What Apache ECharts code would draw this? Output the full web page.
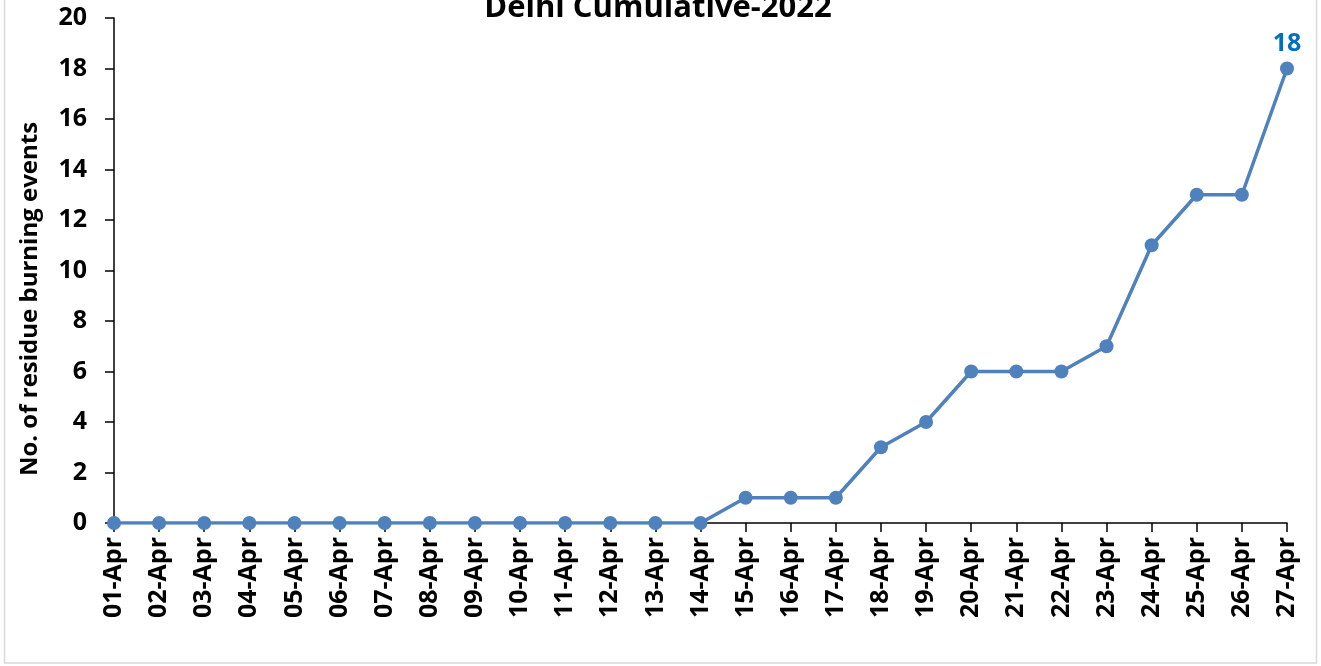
<!DOCTYPE html>
<html>
<head>
<meta charset="utf-8">
<script src="https://cdn.jsdelivr.net/npm/echarts@6/dist/echarts.min.js"></script>
<style>html,body{margin:0;padding:0;background:#fff;}#c{width:1321px;height:666px;}</style>
</head>
<body>
<div id="c"></div>
<script>
const categories = ['01-Apr','02-Apr','03-Apr','04-Apr','05-Apr','06-Apr','07-Apr','08-Apr','09-Apr','10-Apr','11-Apr','12-Apr','13-Apr','14-Apr','15-Apr','16-Apr','17-Apr','18-Apr','19-Apr','20-Apr','21-Apr','22-Apr','23-Apr','24-Apr','25-Apr','26-Apr','27-Apr'];
const cumulativeEvents = [0,0,0,0,0,0,0,0,0,0,0,0,0,0,1,1,1,3,4,6,6,6,7,11,13,13,18];
const titleText = 'Delhi Cumulative-2022';
const yAxisTitle = 'No. of residue burning events';

const FONT = '"Open Sans", "Noto Sans", sans-serif';
const chart = echarts.init(document.getElementById('c'), null, {renderer: 'canvas'});
const lastIdx = cumulativeEvents.length - 1;
chart.setOption({
  animation: false,
  backgroundColor: '#fff',
  title: {
    text: titleText, left: 653, top: -12, textAlign: 'center',
    textStyle: {fontFamily: FONT, fontWeight: 'bold', fontSize: 31, color: '#000'}
  },
  graphic: [
    {type: 'rect', shape: {x: 4.5, y: -10, width: 1312, height: 673}, style: {fill: 'none', stroke: '#D9D9D9', lineWidth: 1.5}, silent: true},
    {type: 'text', x: 30, y: 299, rotation: Math.PI/2, style: {text: yAxisTitle, fontFamily: FONT, fontWeight: 'bold', fontSize: 24, fill: '#000', textAlign: 'center', textVerticalAlign: 'middle'}}
  ],
  grid: {left: 114, right: 34, top: 18, bottom: 143, containLabel: false},
  xAxis: {
    type: 'category', data: categories, boundaryGap: false,
    axisLine: {lineStyle: {color: '#000', width: 1.5}},
    axisTick: {show: true, length: 9, alignWithLabel: true, lineStyle: {color: '#000', width: 1.5}},
    axisLabel: {rotate: 90, interval: 0, margin: 14, fontFamily: FONT, fontWeight: 'bold', fontSize: 25, color: '#000'},
    splitLine: {show: false}
  },
  yAxis: {
    type: 'value', min: 0, max: 20, interval: 2,
    axisLine: {show: true, lineStyle: {color: '#000', width: 1.5}},
    axisTick: {show: true, length: 9, lineStyle: {color: '#000', width: 1.5}},
    axisLabel: {margin: 27, fontFamily: FONT, fontWeight: 'bold', fontSize: 25, color: '#000'},
    splitLine: {show: false}
  },
  series: [{
    type: 'line', data: cumulativeEvents.map((v, i) => i === lastIdx ? {value: v, label: {show: true}} : v),
    symbol: 'circle', symbolSize: 14,
    lineStyle: {color: '#4F81BD', width: 3.5},
    itemStyle: {color: '#4F81BD'},
    label: {show: false, position: 'top', distance: 5, fontFamily: FONT, fontWeight: 'bold', fontSize: 25, color: '#0070C0'}
  }]
});
</script>
</body>
</html>
